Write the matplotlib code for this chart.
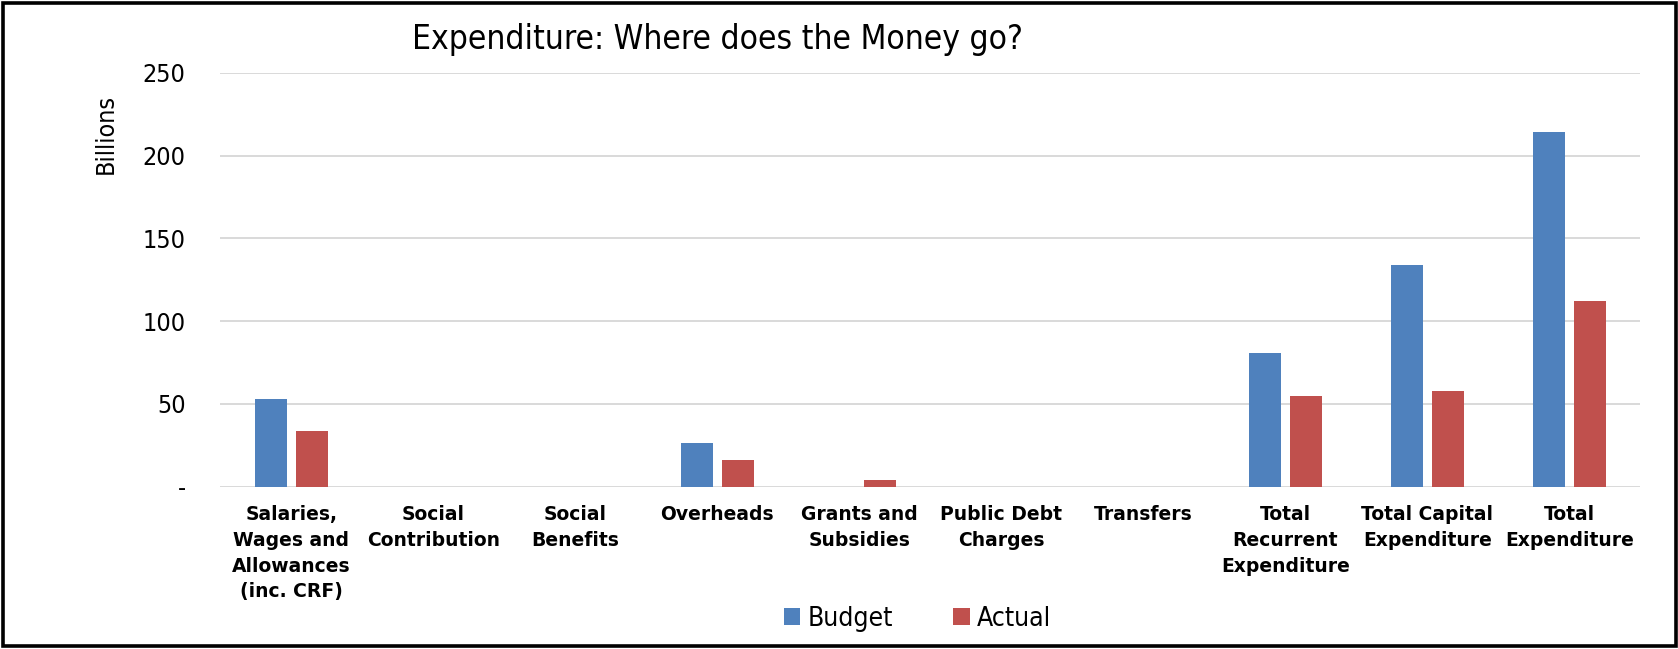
import matplotlib
matplotlib.use('Agg')
import matplotlib.pyplot as plt
import numpy as np
from matplotlib.patches import Patch, Rectangle

# Expenditure lines (Billions)
categories = ['Salaries,\nWages and\nAllowances\n(inc. CRF)', 'Social\nContribution', 'Social\nBenefits',
              'Overheads', 'Grants and\nSubsidies', 'Public Debt\nCharges', 'Transfers',
              'Total\nRecurrent\nExpenditure', 'Total Capital\nExpenditure', 'Total\nExpenditure']
budget = [53.2, 0, 0, 26.6, 0, 0, 0, 80.6, 133.8, 214.3]
actual = [33.3, 0, 0, 16.3, 4.2, 0, 0, 54.6, 57.7, 112.1]
yticks = [0, 50, 100, 150, 200, 250]
ytick_labels = ['-', '50', '100', '150', '200', '250']

BLUE = '#4F81BD'
RED = '#C0504D'
GRID = '#D9D9D9'
W, H = 1678, 649

fig = plt.figure(figsize=(W / 100, H / 100), dpi=100)
ax = fig.add_axes([220.3 / W, 1 - 486.5 / H, 1420 / W, (486.5 - 73) / H])

x = np.arange(len(categories))
bw = 0.223
off = 0.144
ax.bar(x - off, budget, bw, color=BLUE, label='Budget', zorder=2)
ax.bar(x + off, actual, bw, color=RED, label='Actual', zorder=2)

ax.set_xlim(-0.5, len(categories) - 0.5)
ax.set_ylim(0, 250)
ax.set_yticks(yticks)
ax.set_yticklabels(ytick_labels, fontsize=18, fontstretch='condensed')
ax.set_xticks(x)
ax.set_xticklabels(categories, fontsize=13.5, fontweight='bold', linespacing=1.45)
ax.tick_params(axis='x', length=0, pad=13.5)
ax.tick_params(axis='y', length=0, pad=25)

ax.yaxis.grid(True, color=GRID, linewidth=1.4)
ax.set_axisbelow(True)
for s in ax.spines.values():
    s.set_visible(False)

fig.text(412 / W, 1 - 49.3 / H, 'Expenditure: Where does the Money go?', fontsize=24,
         fontstretch='condensed', ha='left', va='baseline')
fig.text(106 / W, 1 - 134 / H, 'Billions', fontsize=18, fontstretch='condensed',
         rotation=90, ha='center', va='center')

handles = [Patch(facecolor=BLUE), Patch(facecolor=RED)]
fig.legend(handles, ['Budget', 'Actual'], loc='center', bbox_to_anchor=(917.5 / W, 1 - 618.7 / H),
           ncol=2, frameon=False, prop={'size': 19, 'stretch': 'condensed'},
           handlelength=0.62, handleheight=0.62, handletextpad=0.28, columnspacing=2.3)

# outer frame round the whole chart
fig.patches.append(Rectangle((2.5 / W, 3 / H), (W - 5) / W, (H - 5.5) / H, transform=fig.transFigure,
                             fill=False, edgecolor='black', linewidth=2.6))

fig.savefig('out.png', dpi=100)
